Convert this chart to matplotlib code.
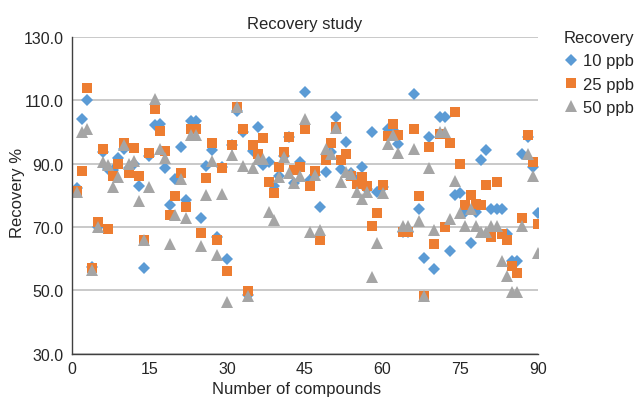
import matplotlib
matplotlib.use("Agg")
import matplotlib.pyplot as plt

# compound index 1..90
compounds = list(range(1, 91))

rec_10ppb = [
    82.2, 104.0, 110.0, 57.5, 70.0, 93.6, 88.3, 88.0, 91.7, 94.7,
    88.5, 90.0, 83.0, 57.0, 92.5, 102.2, 102.5, 88.6, 77.0, 85.2,
    95.2, 78.5, 103.6, 103.6, 72.7, 89.4, 94.4, 66.7, 89.0, 59.9,
    96.0, 106.7, 99.9, 48.5, 94.0, 101.5, 89.5, 90.4, 83.0, 86.0,
    92.3, 98.5, 83.8, 90.4, 112.5, 85.0, 86.5, 76.2, 87.5, 93.6,
    104.6, 88.3, 97.0, 87.0, 85.0, 88.8, 82.0, 99.9, 81.2, 82.5,
    101.0, 100.5, 96.2, 68.3, 68.3, 112.0, 75.7, 60.1, 98.3, 56.7,
    104.9, 104.9, 62.5, 80.0, 80.7, 74.6, 64.8, 74.6, 91.3, 94.3,
    75.7, 75.7, 75.7, 67.8, 59.4, 59.4, 93.1, 98.3, 88.8, 74.4,
]
rec_25ppb = [
    81.5, 87.6, 114.0, 57.0, 71.5, 94.5, 69.4, 86.2, 89.9, 96.5,
    87.0, 95.0, 86.0, 66.0, 93.3, 107.3, 100.2, 94.1, 73.9, 79.9,
    87.0, 76.4, 101.0, 101.0, 68.1, 85.5, 96.5, 65.9, 88.5, 56.0,
    96.0, 108.0, 101.0, 49.9, 95.9, 93.0, 98.0, 84.1, 80.7, 88.8,
    93.6, 98.5, 88.0, 88.8, 101.0, 83.0, 87.6, 65.9, 91.2, 96.5,
    101.5, 91.2, 93.0, 86.2, 83.6, 85.7, 83.0, 70.2, 74.4, 83.3,
    98.8, 102.5, 99.2, 68.5, 68.5, 101.0, 79.7, 48.3, 95.2, 64.6,
    99.4, 69.9, 96.5, 106.2, 89.9, 77.0, 80.1, 77.4, 77.0, 83.3,
    66.7, 84.1, 67.8, 66.0, 57.6, 55.5, 72.7, 99.2, 90.4, 70.9,
]
rec_50ppb = [
    81.2, 100.0, 101.0, 56.5, 70.0, 90.4, 89.6, 82.5, 85.7, 96.0,
    90.0, 91.0, 78.3, 66.0, 82.5, 110.6, 94.6, 91.7, 64.6, 73.8,
    85.2, 73.0, 99.0, 99.0, 64.1, 80.1, 91.0, 61.0, 80.5, 46.2,
    92.7, 107.8, 89.2, 48.3, 88.6, 91.5, 91.5, 74.8, 72.3, 85.7,
    92.0, 87.0, 83.8, 86.2, 104.1, 68.5, 86.4, 69.2, 94.8, 93.0,
    101.2, 84.1, 87.3, 86.7, 81.2, 78.8, 81.2, 54.1, 64.9, 80.7,
    96.2, 99.0, 93.3, 70.4, 70.4, 94.6, 72.0, 48.3, 88.6, 69.2,
    99.9, 99.9, 72.5, 84.6, 74.4, 70.4, 75.7, 70.4, 68.3, 68.3,
    70.4, 70.4, 59.2, 54.6, 49.6, 49.6, 70.4, 93.1, 86.2, 61.7,
]

series_labels = ["10 ppb", "25 ppb", "50 ppb"]
x_ticks = [0, 15, 30, 45, 60, 75, 90]
y_ticks = [30, 50, 70, 90, 110, 130]

plt.rcParams["font.family"] = ["Liberation Sans", "DejaVu Sans"]
text_color = "#262626"

fig = plt.figure(figsize=(6.37, 4.02), dpi=100)
ax = fig.add_axes([71.7 / 637, 1 - 354.6 / 402, (538 - 71.7) / 637, (354.6 - 38.1) / 402])

# marker, colour, size
styles = [("D", "#5B9BD5", 6.0), ("s", "#ED7D31", 7.6), ("^", "#A5A5A5", 8.0)]
for vals, lab, (mk, col, ms) in zip([rec_10ppb, rec_25ppb, rec_50ppb], series_labels, styles):
    ax.plot(compounds, vals, linestyle="none", marker=mk, color=col,
            markersize=ms, markeredgewidth=0, label=lab)

ax.set_xlim(0, 90)
ax.set_ylim(30, 130)
ax.set_xticks(x_ticks)
ax.set_yticks(y_ticks)
ax.set_yticklabels([f"{v:.1f}" for v in y_ticks])
ax.tick_params(length=0, labelsize=11.5, colors=text_color)
ax.tick_params(axis="x", pad=5)
ax.tick_params(axis="y", pad=6)
ax.grid(axis="y", color="#c0c0c0", linewidth=1.2)
ax.set_axisbelow(True)
for s in ["top", "right"]:
    ax.spines[s].set_visible(False)
for s in ["left", "bottom"]:
    ax.spines[s].set_color("#404040")
    ax.spines[s].set_linewidth(1.0)

ax.set_title("Recovery study", fontsize=12, color=text_color, pad=6.5)
ax.set_xlabel("Number of compounds", fontsize=12, color=text_color)
ax.set_ylabel("Recovery %", fontsize=12, color=text_color)
ax.xaxis.set_label_coords(0.483, -0.088)
ax.yaxis.set_label_coords(-0.100, 0.512)

leg = fig.legend(loc="upper left", bbox_to_anchor=(564 / 637, 1 - 31 / 402), frameon=False,
                 title="Recovery", fontsize=12, title_fontsize=12, alignment="left",
                 handletextpad=0.32, handlelength=0.8, labelspacing=0.5,
                 borderpad=0, borderaxespad=0)
for t in leg.get_texts():
    t.set_color(text_color)
leg.get_title().set_color(text_color)

fig.savefig("out.png", dpi=100)
